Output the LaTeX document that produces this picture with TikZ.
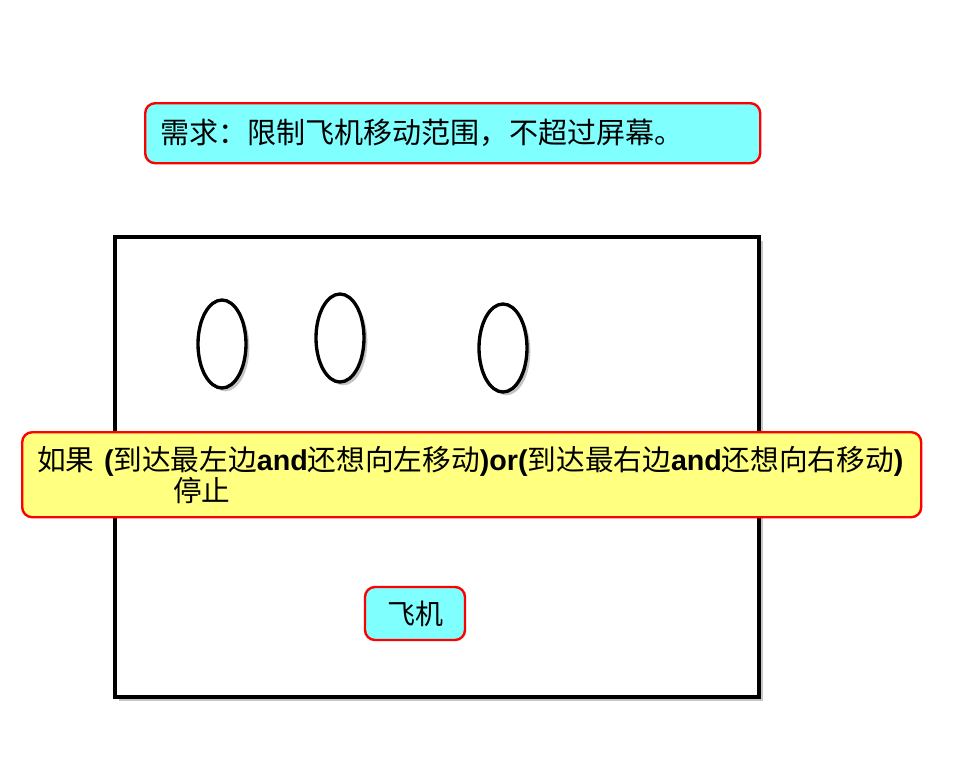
\documentclass[tikz,border=0pt]{standalone}
\usepackage{fontspec}
\newfontfamily\cjk{Noto Sans CJK SC}
\setsansfont{Liberation Sans}
\usetikzlibrary{shadows}
\definecolor{notecyan}{HTML}{80FFFF}
\definecolor{noteyellow}{HTML}{FFFF80}
\newcommand\lat[1]{{\sffamily\bfseries #1}}
\tikzset{
	notebox/.style={draw=red, line width=1.8pt, rounded corners=7.5pt, anchor=north west, inner xsep=11.25pt, align=left, font=\cjk},
	screen/.style={draw=black, line width=3.4pt, fill=white, drop shadow={shadow xshift=3pt, shadow yshift=-3pt, opacity=0.45}},
	enemy/.style={draw=black, line width=2.5pt, fill=white, drop shadow={shadow xshift=2.5pt, shadow yshift=-2.5pt, opacity=0.45}}
}
\begin{document}
\begin{tikzpicture}[x=0.75pt,y=-0.75pt]
	\useasboundingbox (0,0) rectangle (964,778);
	%le cadre de l'ecran
	\draw[screen] (115,237) rectangle (759,697);
	%les ennemis
	\foreach \cx/\cy in {222/344, 340/338, 503/348}
		\draw[enemy] (\cx,\cy) ellipse [x radius=18pt, y radius=33pt];
	%les bulles
	\node[notebox, fill=notecyan, text width=438.75pt, minimum height=45pt, font=\cjk\fontsize{21.8}{26}\selectfont] (demand) at (144,102) {需求：限制飞机移动范围，不超过屏幕。};
	\node[notebox, fill=noteyellow, text width=651.75pt, minimum height=63.75pt, font=\cjk\fontsize{21.5}{23.25}\selectfont] (rule) at (21,431)
		{如果\lat{ (}到达最左边\lat{and}还想向左移动\lat{)or(}到达最右边\lat{and}还想向右移动\lat{)}\\ \hspace*{102pt}停止};
	\node[notebox, fill=notecyan, align=center, anchor=center, inner xsep=0pt, minimum width=75pt, minimum height=39.75pt, font=\cjk\fontsize{21}{24}\selectfont] (plane) at (415,613.5) {飞机};
\end{tikzpicture}
\end{document}
